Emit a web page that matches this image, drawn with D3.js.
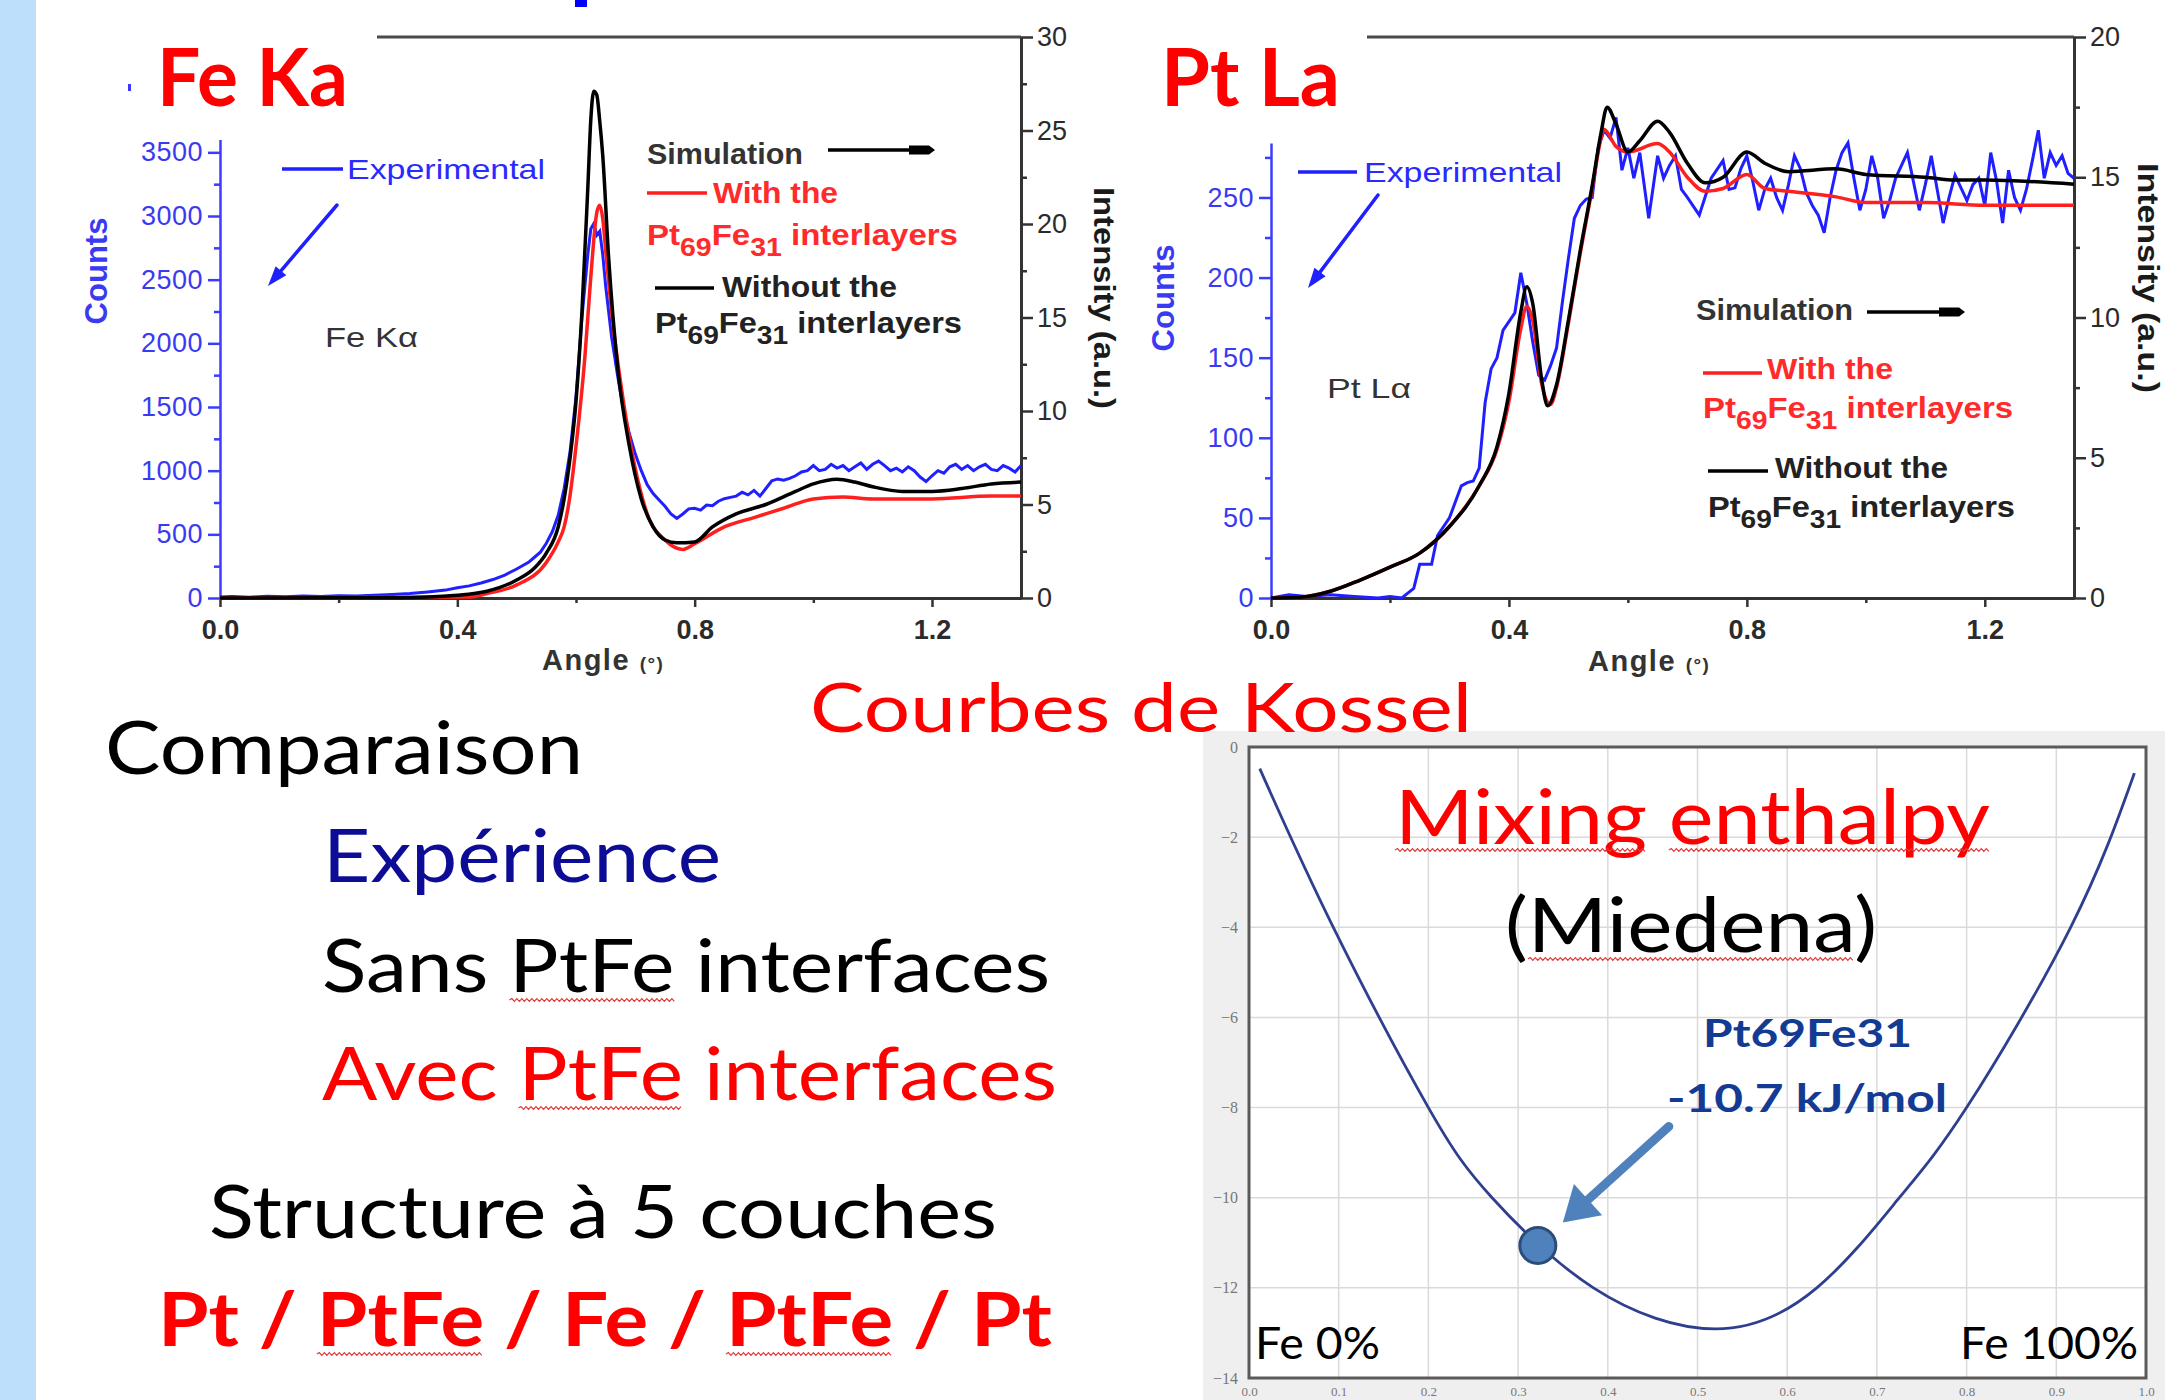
<!DOCTYPE html>
<html lang="en">
<head>
<meta charset="UTF-8">
<title>Courbes de Kossel</title>
<style>
  body { margin: 0; background: #fff; }
  svg { display: block; }
  .chart text { font-family: "Liberation Sans", Arial, sans-serif; }
  .slide { font-family: Lato, "Open Sans", sans-serif; }
</style>
</head>
<body>
<script src="https://d3js.org/d3.v7.min.js"></script>
<script>
// ---- data ----
// Fe Ka : experimental counts (left axis)
var feExp = [[0,8],[0.02,12],[0.05,6],[0.08,14],[0.11,10],[0.14,16],[0.17,12],[0.2,18],[0.23,15],[0.26,22],[0.29,28],[0.32,35],[0.35,48],[0.38,62],[0.4,80],[0.42,95],[0.44,118],[0.46,145],[0.48,180],[0.5,228],[0.52,280],[0.53,320],[0.54,360],[0.55,430],[0.56,520],[0.57,650],[0.58,860],[0.59,1150],[0.6,1580],[0.61,2200],[0.62,2700],[0.625,2900],[0.63,2940],[0.635,2850],[0.64,2880],[0.645,2700],[0.65,2450],[0.66,2050],[0.67,1750],[0.68,1480],[0.69,1290],[0.7,1130],[0.71,1000],[0.72,890],[0.73,820],[0.74,770],[0.75,720],[0.76,660],[0.77,625],[0.78,660],[0.79,700],[0.8,705],[0.81,690],[0.82,730],[0.83,725],[0.84,760],[0.85,780],[0.86,790],[0.87,800],[0.88,830],[0.89,810],[0.9,845],[0.91,800],[0.92,860],[0.93,920],[0.94,935],[0.95,925],[0.96,940],[0.97,960],[0.98,990],[0.99,1000],[1.0,1040],[1.01,1000],[1.02,1010],[1.03,1050],[1.04,1020],[1.05,1040],[1.06,1000],[1.07,1030],[1.08,1060],[1.09,1010],[1.1,1050],[1.11,1075],[1.12,1040],[1.13,1000],[1.14,1020],[1.15,990],[1.16,1030],[1.17,1000],[1.18,950],[1.19,915],[1.2,960],[1.21,1000],[1.22,980],[1.23,1030],[1.24,1050],[1.25,1010],[1.26,1040],[1.27,1000],[1.28,1030],[1.29,1050],[1.3,1010],[1.31,1000],[1.32,1040],[1.33,1020],[1.34,990],[1.35,1040]];
// Fe Ka : simulations, intensity (right axis)
var feWithout = [[0,0],[0.3,0.02],[0.4,0.15],[0.45,0.36],[0.5,0.96],[0.53,1.6],[0.55,2.4],[0.57,3.8],[0.58,5.3],[0.59,7.5],[0.6,10.5],[0.61,15.3],[0.62,22],[0.625,25.6],[0.63,27.1],[0.635,26.9],[0.64,25.5],[0.645,23.7],[0.655,18.2],[0.67,12.4],[0.69,8.1],[0.71,5.3],[0.73,3.8],[0.75,3.1],[0.77,2.95],[0.8,3.0],[0.83,3.8],[0.87,4.5],[0.92,5.0],[0.97,5.7],[1.0,6.1],[1.04,6.35],[1.07,6.2],[1.1,5.95],[1.15,5.7],[1.2,5.7],[1.25,5.85],[1.3,6.1],[1.35,6.2]];
var feWith = [[0,0],[0.42,0.05],[0.45,0.24],[0.5,0.7],[0.55,1.9],[0.57,3.0],[0.58,3.8],[0.59,5.5],[0.6,8.1],[0.615,12.9],[0.625,17.2],[0.635,20.6],[0.64,21.0],[0.645,20.3],[0.65,18.6],[0.66,15.3],[0.68,10.5],[0.7,6.9],[0.72,4.5],[0.75,3.1],[0.78,2.6],[0.8,2.9],[0.85,3.8],[0.9,4.3],[0.95,4.8],[1.0,5.3],[1.05,5.4],[1.1,5.3],[1.2,5.3],[1.3,5.45],[1.35,5.45]];

// Pt La : experimental counts
var ptExp = [[0,0],[0.03,2],[0.06,1],[0.1,2],[0.14,1],[0.18,0],[0.2,1],[0.22,0],[0.23,3],[0.24,6],[0.25,21],[0.27,21],[0.28,39],[0.3,50],[0.32,70],[0.33,72],[0.34,73],[0.35,81],[0.36,122],[0.37,143],[0.38,150],[0.39,167],[0.41,178],[0.42,203],[0.43,184],[0.44,160],[0.45,139],[0.46,136],[0.47,145],[0.48,156],[0.49,185],[0.5,212],[0.51,237],[0.52,245],[0.53,249],[0.54,250],[0.55,281],[0.56,292],[0.57,287],[0.58,300],[0.59,267],[0.6,281],[0.61,262],[0.62,278],[0.635,237],[0.65,276],[0.66,262],[0.67,270],[0.68,276],[0.69,255],[0.7,250],[0.72,239],[0.74,262],[0.76,273],[0.77,255],[0.78,256],[0.79,268],[0.8,276],[0.81,260],[0.82,242],[0.83,255],[0.84,262],[0.85,250],[0.86,242],[0.87,258],[0.88,276],[0.89,268],[0.9,253],[0.91,245],[0.92,239],[0.93,228],[0.94,250],[0.95,267],[0.96,278],[0.97,284],[0.98,262],[0.99,242],[1.0,255],[1.01,276],[1.02,262],[1.03,237],[1.04,248],[1.05,262],[1.06,270],[1.07,278],[1.08,260],[1.09,242],[1.1,258],[1.11,276],[1.12,255],[1.13,234],[1.14,250],[1.15,264],[1.16,256],[1.17,248],[1.18,258],[1.19,262],[1.2,245],[1.21,278],[1.22,260],[1.23,234],[1.24,267],[1.25,250],[1.26,242],[1.27,255],[1.28,273],[1.29,292],[1.3,262],[1.31,278],[1.32,270],[1.33,276],[1.34,265],[1.35,262]];
var ptWithout = [[0,0],[0.05,0.03],[0.1,0.24],[0.15,0.64],[0.2,1.1],[0.25,1.6],[0.3,2.55],[0.35,4.0],[0.38,5.4],[0.4,7.3],[0.42,10.2],[0.43,11.1],[0.44,10.5],[0.455,7.8],[0.465,6.85],[0.48,7.6],[0.5,9.9],[0.52,12.4],[0.54,14.7],[0.555,16.6],[0.565,17.5],[0.58,16.9],[0.6,15.9],[0.62,16.3],[0.65,17.0],[0.67,16.6],[0.7,15.5],[0.73,14.8],[0.76,15.0],[0.8,15.9],[0.83,15.5],[0.87,15.2],[0.95,15.3],[1.0,15.1],[1.1,15.0],[1.15,14.9],[1.2,14.9],[1.35,14.75]];
var ptWith = [[0,0],[0.05,0.03],[0.1,0.24],[0.15,0.64],[0.2,1.1],[0.25,1.6],[0.3,2.55],[0.35,4.0],[0.38,5.3],[0.4,7.0],[0.42,9.6],[0.43,10.4],[0.44,9.9],[0.455,7.65],[0.47,6.9],[0.48,7.5],[0.5,9.8],[0.52,12.3],[0.54,14.6],[0.555,16.4],[0.56,16.7],[0.58,16.1],[0.6,15.9],[0.65,16.2],[0.67,15.9],[0.7,15.0],[0.73,14.5],[0.76,14.6],[0.8,15.1],[0.83,14.6],[0.87,14.5],[0.95,14.3],[1.0,14.1],[1.1,14.1],[1.2,14.0],[1.35,14.0]];

// ticks
var angleTicks = [0, 0.4, 0.8, 1.2];
var angleMinor = [0.2, 0.6, 1.0];
var feCountTicks = [0, 500, 1000, 1500, 2000, 2500, 3000, 3500];
var feCountMinor = [250, 750, 1250, 1750, 2250, 2750, 3250];
var feIntTicks = [0, 5, 10, 15, 20, 25, 30];
var feIntMinor = [2.5, 7.5, 12.5, 17.5, 22.5, 27.5];
var ptCountTicks = [0, 50, 100, 150, 200, 250];
var ptCountMinor = [25, 75, 125, 175, 225, 275];
var ptIntTicks = [0, 5, 10, 15, 20];
var ptIntMinor = [2.5, 7.5, 12.5, 17.5];

// Mixing enthalpy (Miedema), kJ/mol vs Fe fraction
var mixCurve = [[0.012,-0.48],[0.094,-4.0],[0.2,-8.0],[0.271,-10.0],[0.384,-12.0],[0.52,-12.91],[0.633,-12.0],[0.725,-10.0],[0.80,-8.0],[0.916,-4.0],[0.987,-0.58]];
var mixPoint = [0.322, -11.06];
var mixXTicks = [0, 0.1, 0.2, 0.3, 0.4, 0.5, 0.6, 0.7, 0.8, 0.9, 1.0];
var mixYTicks = [0, -2, -4, -6, -8, -10, -12, -14];

var svg = d3.select("body").append("svg")
  .attr("width", 2178).attr("height", 1400);

svg.append("rect").attr("x", 0).attr("y", 0).attr("width", 36).attr("height", 1400).attr("fill", "#bddffb");

var BASE = 598, TOP = 37;

function arrow(g, x1, y1, x2, y2, color, w, hl, hw) {
  var dx = x2 - x1, dy = y2 - y1, L = Math.sqrt(dx * dx + dy * dy);
  var ux = dx / L, uy = dy / L;
  var bx = x2 - ux * hl, by = y2 - uy * hl;
  g.append("line").attr("x1", x1).attr("y1", y1).attr("x2", bx + ux * 2).attr("y2", by + uy * 2)
    .attr("stroke", color).attr("stroke-width", w).attr("stroke-linecap", "round");
  g.append("polygon")
    .attr("points", [[x2, y2], [bx - uy * hw, by + ux * hw], [bx + uy * hw, by - ux * hw]].map(function (p) { return p.join(","); }).join(" "))
    .attr("fill", color);
}

function styleAxis(sel, color, w) {
  sel.select(".domain").attr("stroke", color).attr("stroke-width", w);
  sel.selectAll(".tick line").attr("stroke", color).attr("stroke-width", 2.5);
}

function formula(g, x, y, w, fill) {
  var t = g.append("text").attr("x", x).attr("y", y).attr("fill", fill)
    .attr("font-size", 29).attr("font-weight", "bold")
    .attr("textLength", w).attr("lengthAdjust", "spacingAndGlyphs");
  t.append("tspan").text("Pt");
  t.append("tspan").attr("dy", 11).attr("font-size", 25).text("69");
  t.append("tspan").attr("dy", -11).text("Fe");
  t.append("tspan").attr("dy", 11).attr("font-size", 25).text("31");
  t.append("tspan").attr("dy", -11).text(" interlayers");
}

function kossel(c) {
  var x = d3.scaleLinear().domain([0, 1.35]).range([c.left, c.right]);
  var yC = d3.scaleLinear().domain([0, c.countMax]).range([BASE, c.countTopPx]);
  var yI = d3.scaleLinear().domain([0, c.intMax]).range([BASE, TOP]);
  var g = svg.append("g").attr("class", "chart");

  g.append("line").attr("x1", c.topLineX).attr("x2", c.right).attr("y1", TOP).attr("y2", TOP)
    .attr("stroke", "#4a4a4a").attr("stroke-width", 3);

  // minor ticks
  g.append("g").attr("transform", "translate(0," + BASE + ")")
    .call(d3.axisBottom(x).tickValues(angleMinor).tickSize(5).tickFormat(""))
    .call(function (s) { s.select(".domain").remove(); s.selectAll("line").attr("stroke", "#333").attr("stroke-width", 2.5); });
  g.append("g").attr("transform", "translate(" + c.left + ",0)")
    .call(d3.axisLeft(yC).tickValues(c.countMinor).tickSize(6).tickFormat(""))
    .call(function (s) { s.select(".domain").remove(); s.selectAll("line").attr("stroke", "#3c3cff").attr("stroke-width", 2.5); });
  g.append("g").attr("transform", "translate(" + c.right + ",0)")
    .call(d3.axisRight(yI).tickValues(c.intMinor).tickSize(6).tickFormat(""))
    .call(function (s) { s.select(".domain").remove(); s.selectAll("line").attr("stroke", "#333").attr("stroke-width", 2.5); });

  // main axes
  var ax = g.append("g").attr("transform", "translate(0," + BASE + ")")
    .call(d3.axisBottom(x).tickValues(angleTicks).tickSize(9).tickSizeOuter(0).tickPadding(13).tickFormat(d3.format(".1f")));
  styleAxis(ax, "#333", 3);
  ax.selectAll("text").attr("font-size", 27).attr("font-weight", "bold").attr("fill", "#2b2b2b").attr("font-family", "Liberation Sans, Arial, sans-serif");

  var al = g.append("g").attr("transform", "translate(" + c.left + ",0)")
    .call(d3.axisLeft(yC).tickValues(c.countTicks).tickSize(12).tickSizeOuter(0).tickPadding(5).tickFormat(d3.format("d")));
  styleAxis(al, "#3c3cff", 2.5);
  al.selectAll("text").attr("font-size", 27).attr("fill", "#3a3af2").attr("letter-spacing", 0.5).attr("font-family", "Liberation Sans, Arial, sans-serif");

  var ar = g.append("g").attr("transform", "translate(" + c.right + ",0)")
    .call(d3.axisRight(yI).tickValues(c.intTicks).tickSize(12).tickSizeOuter(0).tickPadding(4).tickFormat(d3.format("d")));
  styleAxis(ar, "#333", 3);
  ar.selectAll("text").attr("font-size", 27).attr("fill", "#2b2b2b").attr("font-family", "Liberation Sans, Arial, sans-serif");

  // curves
  var lineC = d3.line().x(function (d) { return x(d[0]); }).y(function (d) { return yC(d[1]); });
  var lineI = d3.line().curve(d3.curveMonotoneX).x(function (d) { return x(d[0]); }).y(function (d) { return yI(d[1]); });
  g.append("path").datum(c.exp).attr("d", lineC).attr("fill", "none").attr("stroke", "#1f1fff").attr("stroke-width", 3);
  g.append("path").datum(c.withI).attr("d", lineI).attr("fill", "none").attr("stroke", "#ff1f1f").attr("stroke-width", 3.5);
  g.append("path").datum(c.withoutI).attr("d", lineI).attr("fill", "none").attr("stroke", "#000").attr("stroke-width", 3.5);

  // axis titles
  g.append("text").attr("transform", "translate(" + c.countsLbl[0] + "," + c.countsLbl[1] + ") rotate(-90)")
    .attr("text-anchor", "middle").attr("dominant-baseline", "central")
    .attr("font-size", 31).attr("font-weight", "bold").attr("fill", "#3a3af2").text("Counts");
  g.append("text").attr("transform", "translate(" + c.intLbl[0] + "," + c.intLbl[1] + ") rotate(90)")
    .attr("text-anchor", "middle").attr("dominant-baseline", "central")
    .attr("font-size", 29).attr("font-weight", "bold").attr("fill", "#1a1a1a")
    .attr("textLength", c.intLbl[2]).attr("lengthAdjust", "spacingAndGlyphs").text("Intensity (a.u.)");
  var at = g.append("text").attr("x", c.angleLbl[0]).attr("y", c.angleLbl[1])
    .attr("font-size", 29).attr("font-weight", "bold").attr("fill", "#333").attr("letter-spacing", 1.5);
  at.append("tspan").text("Angle ");
  at.append("tspan").attr("font-size", 19).text("(°)");

  // legend
  var L = c.legend;
  g.append("line").attr("x1", L.exp[0]).attr("x2", L.exp[1]).attr("y1", L.exp[2]).attr("y2", L.exp[2]).attr("stroke", "#1f1fff").attr("stroke-width", 3.5);
  g.append("text").attr("x", L.exp[3]).attr("y", L.exp[4]).attr("font-size", 28).attr("fill", "#2a2aff")
    .attr("textLength", L.exp[5]).attr("lengthAdjust", "spacingAndGlyphs").text("Experimental");
  arrow(g, L.expArrow[0], L.expArrow[1], L.expArrow[2], L.expArrow[3], "#1f1fff", 3.5, 20, 7);
  g.append("text").attr("x", L.line[0]).attr("y", L.line[1]).attr("font-size", 28).attr("fill", "#333")
    .attr("textLength", L.line[2]).attr("lengthAdjust", "spacingAndGlyphs").text(L.line[3]);

  g.append("text").attr("x", L.sim[0]).attr("y", L.sim[1]).attr("font-size", 29).attr("font-weight", "bold").attr("fill", "#333")
    .attr("textLength", L.sim[2]).attr("lengthAdjust", "spacingAndGlyphs").text("Simulation");
  var sx1 = L.simArrow[0], sx2 = L.simArrow[1], sy = L.simArrow[2];
  g.append("line").attr("x1", sx1).attr("x2", sx2 - 20).attr("y1", sy).attr("y2", sy).attr("stroke", "#000").attr("stroke-width", 3.5);
  g.append("polygon").attr("points", [[sx2 - 26, sy - 4.5], [sx2 - 6, sy - 4.5], [sx2, sy], [sx2 - 6, sy + 4.5], [sx2 - 26, sy + 4.5]].map(function (p) { return p.join(","); }).join(" ")).attr("fill", "#000");

  g.append("line").attr("x1", L.with[0]).attr("x2", L.with[1]).attr("y1", L.with[2]).attr("y2", L.with[2]).attr("stroke", "#ff1f1f").attr("stroke-width", 3.5);
  g.append("text").attr("x", L.with[3]).attr("y", L.with[4]).attr("font-size", 29).attr("font-weight", "bold").attr("fill", "#ff2a2a")
    .attr("textLength", L.with[5]).attr("lengthAdjust", "spacingAndGlyphs").text("With the");
  formula(g, L.withF[0], L.withF[1], L.withF[2], "#ff2a2a");

  g.append("line").attr("x1", L.without[0]).attr("x2", L.without[1]).attr("y1", L.without[2]).attr("y2", L.without[2]).attr("stroke", "#000").attr("stroke-width", 3.5);
  g.append("text").attr("x", L.without[3]).attr("y", L.without[4]).attr("font-size", 29).attr("font-weight", "bold").attr("fill", "#222")
    .attr("textLength", L.without[5]).attr("lengthAdjust", "spacingAndGlyphs").text("Without the");
  formula(g, L.withoutF[0], L.withoutF[1], L.withoutF[2], "#222");
  return g;
}

kossel({
  left: 220, right: 1021, countMax: 3600, countTopPx: 139.6, intMax: 30, topLineX: 377,
  countTicks: feCountTicks, countMinor: feCountMinor, intTicks: feIntTicks, intMinor: feIntMinor,
  exp: feExp, withI: feWith, withoutI: feWithout,
  countsLbl: [96, 271], intLbl: [1104, 298, 222], angleLbl: [542, 670],
  legend: {
    exp: [282, 343, 169, 347, 179, 198], expArrow: [337, 205, 268, 286], line: [325, 347, 93, "Fe K\u03b1"],
    sim: [647, 164, 156], simArrow: [828, 935, 150],
    with: [647, 707, 193, 713, 203, 125], withF: [647, 245, 311],
    without: [655, 714, 288, 722, 297, 175], withoutF: [655, 333, 307]
  }
});

kossel({
  left: 1271, right: 2074, countMax: 284, countTopPx: 143, intMax: 20, topLineX: 1367,
  countTicks: ptCountTicks, countMinor: ptCountMinor, intTicks: ptIntTicks, intMinor: ptIntMinor,
  exp: ptExp, withI: ptWith, withoutI: ptWithout,
  countsLbl: [1163, 298], intLbl: [2148, 278, 230], angleLbl: [1588, 671],
  legend: {
    exp: [1298, 1357, 172, 1364, 182, 198], expArrow: [1378, 195, 1308, 288], line: [1327, 398, 84, "Pt L\u03b1"],
    sim: [1696, 320, 157], simArrow: [1867, 1965, 312],
    with: [1703, 1762, 373, 1767, 379, 126], withF: [1703, 418, 310],
    without: [1708, 1768, 471, 1775, 478, 173], withoutF: [1708, 517, 307]
  }
});

// white box of the "Fe Ka" title hides the top of the left chart
svg.append("rect").attr("x", 36).attr("y", 0).attr("width", 341).attr("height", 140).attr("fill", "#fff");
svg.append("rect").attr("x", 128).attr("y", 84).attr("width", 3).attr("height", 7).attr("fill", "#3a3aff");
svg.append("rect").attr("x", 575).attr("y", 0).attr("width", 12).attr("height", 7).attr("fill", "#0000ff");

// ---- Mixing enthalpy panel ----
svg.append("rect").attr("x", 1203).attr("y", 731).attr("width", 962).attr("height", 669).attr("fill", "#efefef");
var xM = d3.scaleLinear().domain([0, 1]).range([1249, 2146]);
var yM = d3.scaleLinear().domain([0, -14]).range([747, 1378]);
var mg = svg.append("g");
mg.append("rect").attr("x", 1249).attr("y", 747).attr("width", 897).attr("height", 631).attr("fill", "#fff");
mg.selectAll(".vg").data(mixXTicks.slice(1, -1)).enter().append("line")
  .attr("x1", function (d) { return xM(d); }).attr("x2", function (d) { return xM(d); })
  .attr("y1", 747).attr("y2", 1378).attr("stroke", "#dadada").attr("stroke-width", 1.5);
mg.selectAll(".hg").data(mixYTicks.slice(1, -1)).enter().append("line")
  .attr("y1", function (d) { return yM(d); }).attr("y2", function (d) { return yM(d); })
  .attr("x1", 1249).attr("x2", 2146).attr("stroke", "#dadada").attr("stroke-width", 1.5);
mg.append("rect").attr("x", 1249).attr("y", 747).attr("width", 897).attr("height", 631)
  .attr("fill", "none").attr("stroke", "#5a5a5a").attr("stroke-width", 3);
var myA = mg.append("g").attr("transform", "translate(1249,0)")
  .call(d3.axisLeft(yM).tickValues(mixYTicks).tickSize(0).tickPadding(11).tickFormat(d3.format("d")));
myA.select(".domain").remove();
myA.selectAll("text").attr("font-family", "Liberation Serif, serif").attr("font-size", 16).attr("fill", "#777");
var mxA = mg.append("g").attr("transform", "translate(0,1378)")
  .call(d3.axisBottom(xM).tickValues(mixXTicks).tickSize(0).tickPadding(9).tickFormat(d3.format(".1f")));
mxA.select(".domain").remove();
mxA.selectAll("text").attr("font-family", "Liberation Serif, serif").attr("font-size", 13).attr("fill", "#777");

mg.append("path").datum(mixCurve)
  .attr("d", d3.line().curve(d3.curveNatural).x(function (d) { return xM(d[0]); }).y(function (d) { return yM(d[1]); }))
  .attr("fill", "none").attr("stroke", "#2f3f8f").attr("stroke-width", 2.8);

var px = xM(mixPoint[0]), py = yM(mixPoint[1]);
arrow(mg, px + 131, py - 119, px + 25, py - 23, "#4f81bd", 9, 34, 21);
mg.append("circle").attr("cx", px).attr("cy", py).attr("r", 18)
  .attr("fill", "#4f81bd").attr("stroke", "#2c4d7a").attr("stroke-width", 3);

// ---- slide text ----
function slideText(txt, x, y, size, w, fill, weight) {
  return svg.append("text").attr("class", "slide").attr("x", x).attr("y", y)
    .attr("font-size", size).attr("font-weight", weight || "normal").attr("fill", fill)
    .attr("textLength", w).attr("lengthAdjust", "spacingAndGlyphs").text(txt);
}
function squiggle(t, i0, i1, dy) {
  var n = t.node();
  var a = n.getStartPositionOfChar(i0), b = n.getEndPositionOfChar(i1);
  var y = a.y + dy, p = "M" + a.x + "," + y, up = true;
  for (var xx = a.x + 2.5; xx <= b.x; xx += 2.5) {
    p += "L" + xx + "," + (y + (up ? -1.4 : 1.4));
    up = !up;
  }
  svg.append("path").attr("d", p).attr("fill", "none").attr("stroke", "#e03a3a").attr("stroke-width", 1.2);
}

slideText("Fe Ka", 157, 106, 80, 191, "#ff0000", "bold");
slideText("Pt La", 1161, 106, 80, 179, "#ff0000", "bold");
slideText("Courbes de Kossel", 810, 732, 68, 662, "#ff0000");
slideText("Comparaison", 105, 774, 74, 478, "#000");
slideText("Exp\u00e9rience", 323, 882, 74, 398, "#0c0c96");
var sans = slideText("Sans PtFe interfaces", 322, 992, 74, 728, "#000");
var avec = slideText("Avec PtFe interfaces", 322, 1100, 74, 735, "#ff0000");
slideText("Structure \u00e0 5 couches", 209, 1238, 74, 788, "#000");
var layers = slideText("Pt / PtFe / Fe / PtFe / Pt", 158, 1346, 74, 894, "#ff0000", "bold");
squiggle(sans, 5, 8, 8);
squiggle(avec, 5, 8, 8);
squiggle(layers, 5, 8, 8);
squiggle(layers, 17, 20, 8);

var mix = slideText("Mixing enthalpy", 1395, 844, 75, 595, "#ff0000");
var mied = slideText("(Miedena)", 1505, 952, 75, 372, "#000");
squiggle(mix, 0, 5, 6);
squiggle(mix, 7, 14, 6);
squiggle(mied, 1, 7, 7);
slideText("Pt69Fe31", 1703, 1047, 39, 209, "#133b94", "bold");
slideText("-10.7 kJ/mol", 1667, 1112, 39, 280, "#133b94", "bold");
slideText("Fe 0%", 1255, 1359, 45, 125, "#000");
slideText("Fe 100%", 1960, 1359, 45, 178, "#000");
</script>
</body>
</html>
